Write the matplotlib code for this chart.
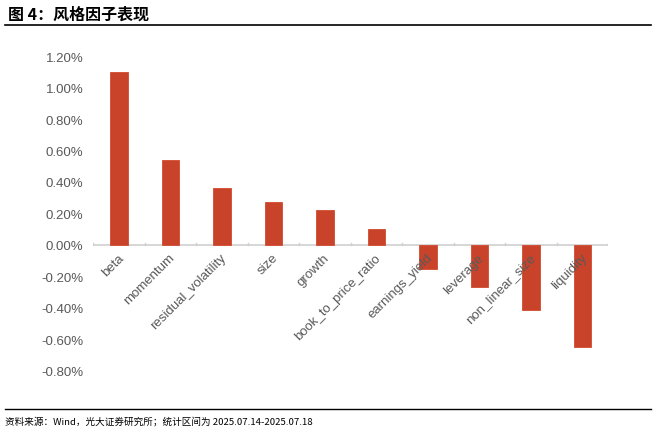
import matplotlib.pyplot as plt
from matplotlib.ticker import FuncFormatter, MultipleLocator
from matplotlib.lines import Line2D

plt.rcParams['font.family'] = ['Liberation Sans', 'Noto Sans CJK SC', 'DejaVu Sans']

# style factor returns (%)
factors = ['beta', 'momentum', 'residual_volatility', 'size', 'growth',
           'book_to_price_ratio', 'earnings_yield', 'leverage',
           'non_linear_size', 'liquidity']
returns = [1.10, 0.54, 0.36, 0.27, 0.22, 0.10, -0.15, -0.27, -0.41, -0.65]

title = '图 4：风格因子表现'
source = '资料来源：Wind，光大证券研究所；统计区间为 2025.07.14-2025.07.18'

fig = plt.figure(figsize=(6.56, 4.31), dpi=100)
ax = fig.add_axes([0.142, 0.137, 0.785, 0.7307])

x = list(range(len(factors)))
ax.bar(x, [r / 100 for r in returns], width=0.34, color='#C8432A',
       edgecolor='#D04A2E', linewidth=0.6, zorder=3)

ax.set_ylim(-0.008, 0.012)
ax.set_xlim(-0.5, len(factors) - 0.5)
ax.yaxis.set_major_locator(MultipleLocator(0.002))
ax.yaxis.set_major_formatter(FuncFormatter(lambda v, p: f'{v * 100:.2f}%'))

for s in ['top', 'right', 'left', 'bottom']:
    ax.spines[s].set_visible(False)
ax.axhline(0, color='#D0D0D0', linewidth=1.2, zorder=2)
# category boundary ticks on the zero line
for b in range(len(factors) + 1):
    ax.plot([b - 0.5, b - 0.5], [0, 0.00015], color='#D0D0D0', linewidth=1, zorder=2)

ax.tick_params(axis='y', length=0, labelsize=9.5, labelcolor='#595959', pad=7)
ax.set_xticks(x)
ax.set_xticklabels([])
ax.tick_params(axis='x', length=0)

for i, name in enumerate(factors):
    ax.annotate(name, xy=(i, 0), xytext=(-1, -4.5), textcoords='offset points',
                rotation=45, ha='right', va='top', rotation_mode='anchor',
                fontsize=9.5, color='#595959')

# header and footer
fig.text(0.012, 0.965, title, fontsize=11.5, fontweight='bold',
         family=['Noto Sans CJK SC', 'DejaVu Sans'], va='center', ha='left')
fig.add_artist(Line2D([0.008, 0.992], [0.939, 0.939], color='black', linewidth=1.2))
fig.add_artist(Line2D([0.008, 0.992], [0.048, 0.048], color='black', linewidth=1.0))
fig.text(0.008, 0.023, source, fontsize=6.9,
         family=['Noto Sans CJK SC', 'DejaVu Sans'], va='center', ha='left')

fig.savefig('out.png', dpi=100)
